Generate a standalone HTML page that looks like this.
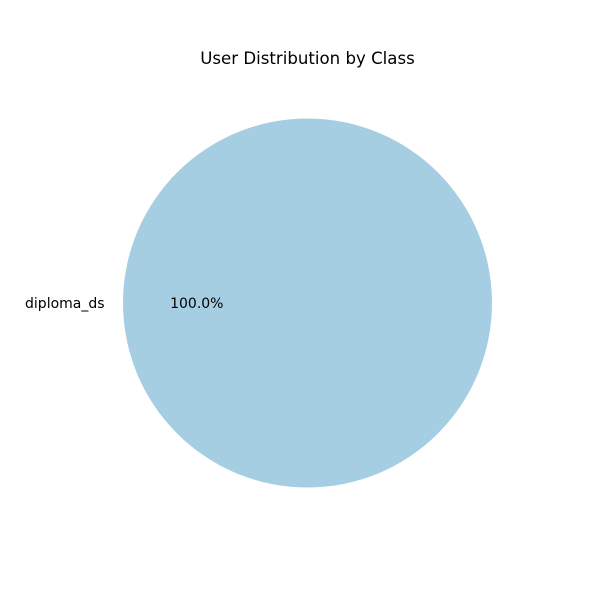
<!DOCTYPE html>
<html>
<head>
<meta charset="utf-8">
<style>
  html,body{margin:0;padding:0;background:#fff;}
  svg{display:block;font-family:"DejaVu Sans","Liberation Sans",sans-serif;}
</style>
</head>
<body>
<svg id="chart" width="600" height="600" viewBox="0 0 600 600">
  <rect width="600" height="600" fill="#fff"/>
  <text x="307.5" y="64" text-anchor="middle" font-size="16.6" fill="#000">User Distribution by Class</text>
  <g id="slices"></g>
</svg>
<script>
const categories = ["diploma_ds"];
const values = [1];
const colors = ["#a6cee3","#1f78b4","#b2df8a","#33a02c","#fb9a99","#e31a1c"];

const cx = 307.5, cy = 303, r = 184.5;
const svgNS = "http://www.w3.org/2000/svg";
const g = document.getElementById("slices");
const total = values.reduce((a,b)=>a+b,0);
function pt(angDeg, rad){
  const a = angDeg*Math.PI/180;
  return [cx + rad*Math.cos(a), cy - rad*Math.sin(a)];
}
let start = 0;
values.forEach((v,i)=>{
  const frac = v/total;
  const end = start + frac*360;
  let shape;
  if (frac >= 0.9999) {
    shape = document.createElementNS(svgNS,"circle");
    shape.setAttribute("cx",cx); shape.setAttribute("cy",cy); shape.setAttribute("r",r);
  } else {
    shape = document.createElementNS(svgNS,"path");
    const p1 = pt(start,r), p2 = pt(end,r);
    const large = frac>0.5?1:0;
    shape.setAttribute("d",`M${cx},${cy} L${p1[0]},${p1[1]} A${r},${r} 0 ${large} 0 ${p2[0]},${p2[1]} Z`);
  }
  shape.setAttribute("fill", colors[i%colors.length]);
  
  
  g.appendChild(shape);

  const mid = (start+end)/2;
  const lp = pt(mid, r*1.1);
  const cosm = Math.cos(mid*Math.PI/180);
  const lab = document.createElementNS(svgNS,"text");
  lab.setAttribute("x", lp[0]); lab.setAttribute("y", lp[1]+5);
  lab.setAttribute("font-size","14");
  lab.setAttribute("text-anchor", cosm < -0.01 ? "end" : (cosm > 0.01 ? "start" : "middle"));
  lab.textContent = categories[i];
  
  
  g.appendChild(lab);

  const pp = pt(mid, r*0.6);
  const pct = document.createElementNS(svgNS,"text");
  pct.setAttribute("x", pp[0]); pct.setAttribute("y", pp[1]+5);
  pct.setAttribute("font-size","14");
  pct.setAttribute("text-anchor","middle");
  pct.textContent = (frac*100).toFixed(1) + "%";
  
  
  g.appendChild(pct);

  start = end;
});
</script>
</body>
</html>
